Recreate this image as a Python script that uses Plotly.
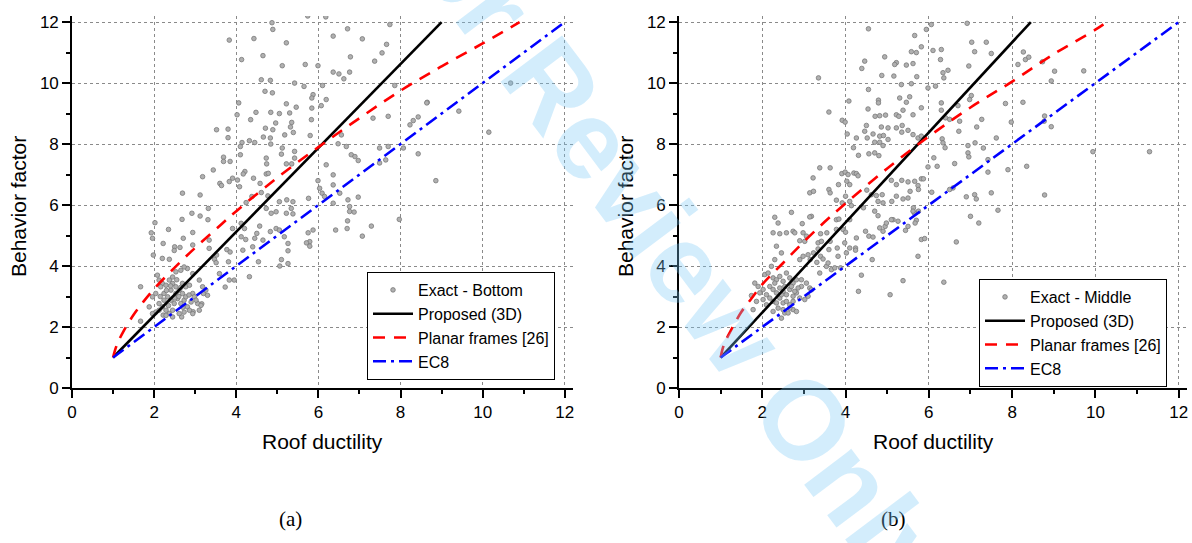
import plotly.graph_objects as go

# ---------------- data ----------------
bottom_pts = [
    (4.87,11.98),(4.89,11.76),(3.83,11.41),(4.43,11.46),(5.22,11.32),(4.13,10.77),(4.65,10.90),(5.12,10.57),
    (5.68,10.61),(5.99,10.57),(6.36,11.54),(6.71,11.78),(7.07,11.45),(7.74,11.92),(7.66,11.27),(7.55,10.99),
    (7.37,10.72),(6.78,10.86),(6.36,10.36),(6.50,10.30),(6.76,10.36),(6.62,10.14),(4.61,10.11),(4.83,10.09),
    (5.42,10.00),(5.65,9.89),(4.70,9.73),(4.88,9.68),(5.87,9.62),(5.84,9.51),(6.10,9.92),(6.19,9.46),
    (6.07,9.26),(5.84,9.18),(5.46,9.21),(5.22,9.32),(5.30,9.02),(4.84,9.04),(5.05,9.00),(4.48,9.04),
    (4.06,9.35),(4.02,8.96),(4.35,8.80),(4.96,8.69),(4.89,8.47),(4.71,8.52),(4.66,8.23),(4.83,8.20),
    (5.35,8.71),(5.32,8.56),(5.39,8.38),(5.18,8.30),(5.83,8.80),(5.80,8.28),(3.52,8.47),(3.80,8.49),
    (3.80,8.21),(4.14,8.05),(4.32,8.11),(4.45,8.05),(4.84,8.00),(5.12,7.87),(5.42,7.76),(5.42,7.54),
    (4.73,7.54),(4.74,7.35),(5.10,7.67),(5.22,7.35),(5.35,7.35),(4.10,7.92),(4.10,7.65),(3.69,7.57),
    (3.85,7.43),(3.69,7.43),(4.21,7.10),(4.17,7.02),(4.42,6.88),(4.73,7.02),(4.78,7.04),(3.91,6.88),
    (4.03,6.82),(3.83,6.77),(3.60,6.71),(3.64,6.64),(3.44,7.15),(3.18,6.93),(2.69,6.39),(3.12,6.33),
    (4.08,6.60),(4.24,6.08),(4.38,6.28),(4.58,6.71),(4.61,6.41),(4.77,6.30),(5.05,6.11),(5.23,6.17),
    (5.38,6.11),(4.73,5.89),(4.85,5.73),(4.97,5.78),(5.22,5.73),(5.38,5.71),(5.34,5.89),(5.76,6.22),
    (6.03,6.55),(6.09,6.39),(6.15,6.28),(6.36,6.66),(6.52,6.39),(6.72,6.17),(6.76,5.95),(6.76,5.79),
    (6.87,5.77),(6.97,6.26),(6.36,6.06),(5.99,6.80),(6.19,7.32),(6.36,6.99),(6.48,8.01),(6.56,8.30),
    (6.68,7.92),(6.80,7.65),(6.97,7.46),(6.89,7.59),(7.33,8.85),(7.70,8.91),(7.86,9.92),(7.49,7.87),
    (7.70,7.92),(8.07,7.87),(8.23,8.63),(8.31,8.77),(8.43,8.89),(8.65,9.37),(8.43,7.68),(8.86,6.80),
    (7.97,5.53),(7.29,5.31),(7.07,4.98),(6.70,5.23),(6.71,5.48),(6.42,5.18),(5.87,5.18),(5.75,5.09),
    (5.79,4.80),(5.79,4.65),(5.71,4.76),(5.26,4.74),(5.26,4.50),(5.10,4.21),(5.26,4.08),(5.06,4.00),
    (4.83,5.13),(4.97,5.23),(5.05,5.18),(5.17,4.96),(4.57,5.31),(4.50,5.07),(4.65,4.85),(4.45,4.91),
    (4.40,4.63),(4.12,5.40),(4.20,5.23),(4.12,4.96),(4.23,4.87),(3.91,5.23),(3.77,4.54),(3.85,4.46),
    (4.16,4.52),(4.54,4.14),(4.32,3.65),(3.95,3.54),(3.83,3.54),(3.81,4.14),(3.59,3.75),(3.47,4.22),
    (3.52,4.36),(3.34,4.58),(3.34,4.85),(2.94,5.10),(3.31,5.52),(3.32,5.89),(3.12,5.64),(2.92,5.73),
    (2.68,5.53),(2.35,5.20),(2.02,5.42),(1.93,5.09),(1.96,4.91),(2.20,4.25),(2.37,4.22),(2.50,4.63),
    (2.63,4.61),(2.71,4.91),(2.49,4.51),(2.94,4.69),(1.98,4.36),(2.22,4.74),(1.67,3.32),(3.51,4.11),
    (10.68,10.00),(10.15,8.39),(8.64,9.35),(9.42,9.08),(7.64,7.48),(7.49,7.38),(5.74,12.20),(6.18,12.17),
    (1.67,2.19),(3.73,3.31),(3.16,2.76),(2.95,2.50),(2.67,2.33),(2.22,2.39),(3.20,3.10),
    (2.08,3.70),(2.12,3.54),(2.20,3.43),(2.29,3.37),(2.37,3.54),(2.45,3.43),(2.53,3.32),(2.61,3.21),
    (2.69,3.43),(2.77,3.32),(2.86,3.37),(2.94,3.10),(2.24,3.10),(2.33,2.99),(2.41,2.88),(2.49,2.77),
    (2.57,2.93),(2.65,2.77),(2.73,2.88),(2.81,2.66),(2.90,2.82),(2.98,2.99),(3.06,2.77),(3.14,2.71),
    (2.12,2.77),(2.20,2.66),(2.29,2.55),(2.37,2.44),(2.45,2.55),(2.61,2.44),(2.73,2.49),(2.86,2.55),
    (3.02,2.88),(3.18,3.32),(3.26,3.21),(3.30,3.04),(3.10,3.54),(2.94,3.75),(2.81,3.92),(2.73,3.97),
    (2.65,3.86),(2.53,3.81),(2.45,3.64),(2.16,3.32),(2.04,3.10),(1.96,2.99),(2.24,2.88),(2.41,3.21),
    (2.53,3.10),(2.69,3.10),(2.77,2.99),(2.12,2.55),(2.29,2.38),(2.04,2.49),(2.45,2.33),(1.88,2.66),
    (1.96,2.44),(2.94,2.44),(3.10,2.55),(2.30,3.20),(2.55,3.55),(2.60,3.00),(2.35,2.70),(2.70,2.65),
    (2.15,3.00),(2.85,3.05),(2.40,3.35),(2.65,3.30),(2.50,2.95),
]

middle_pts = [
    (4.55,11.78),(6.06,11.92),(5.94,11.76),(6.92,11.96),(5.66,11.56),(5.82,11.19),(5.58,11.03),(5.70,11.00),
    (5.62,10.64),(5.46,10.59),(5.22,10.67),(5.18,10.61),(4.94,10.86),(4.46,10.72),(4.39,10.48),(4.87,10.25),
    (5.16,10.23),(5.71,10.21),(5.34,9.95),(5.58,9.98),(6.10,11.07),(6.30,11.10),(6.28,10.77),(6.34,10.34),
    (6.46,10.42),(6.36,10.17),(6.16,9.90),(5.98,9.84),(7.03,11.34),(7.38,11.34),(7.10,11.03),(7.50,10.97),
    (6.96,10.56),(8.14,10.61),(8.27,11.02),(8.32,10.77),(3.35,10.17),(4.55,9.79),(4.08,9.41),(4.79,9.44),
    (4.79,9.35),(5.30,9.51),(5.54,9.55),(5.46,9.37),(3.60,9.05),(3.92,8.78),(3.99,8.72),(4.54,9.15),
    (4.71,8.91),(4.82,8.93),(4.96,8.95),(5.22,8.96),(5.28,8.91),(5.38,9.11),(5.62,8.96),(5.82,9.19),
    (4.04,8.33),(4.26,8.20),(4.50,8.61),(4.46,8.42),(4.52,8.20),(4.66,8.33),(4.86,8.56),(5.02,8.53),
    (4.82,8.26),(4.91,8.28),(5.22,8.53),(5.36,8.61),(5.35,8.39),(5.50,8.45),(5.62,8.31),(5.74,8.20),
    (5.82,8.26),(4.70,8.06),(4.82,8.06),(4.90,7.95),(5.02,8.15),(4.19,7.88),(4.31,7.63),(4.56,7.68),
    (4.70,7.71),(4.80,7.62),(3.38,7.22),(3.63,7.22),(3.22,6.89),(3.91,7.03),(3.99,7.08),(4.06,7.00),
    (4.20,7.05),(4.26,7.03),(4.30,6.96),(3.83,6.67),(4.03,6.78),(4.10,6.67),(3.14,6.40),(3.23,6.45),
    (3.60,6.51),(3.63,6.40),(3.78,6.16),(4.00,6.29),(4.10,6.12),(4.14,5.98),(3.92,6.07),(4.51,6.49),
    (4.62,6.34),(4.74,6.31),(4.88,6.34),(4.78,6.12),(4.90,6.07),(4.43,5.91),(5.10,6.81),(5.22,6.67),
    (5.35,6.81),(5.50,6.76),(5.66,6.78),(5.82,6.86),(5.22,6.29),(5.38,6.20),(5.50,6.23),(5.55,6.45),
    (5.11,6.12),(5.63,5.91),(5.75,5.80),(5.65,5.74),(5.87,6.86),(5.98,7.25),(5.74,6.64),(5.75,6.51),
    (6.12,7.55),(6.20,7.27),(6.39,7.88),(6.62,7.36),(6.32,8.17),(6.34,8.04),(6.70,9.26),(6.50,8.81),
    (6.74,8.75),(6.72,8.42),(6.30,9.35),(6.30,9.11),(6.40,8.86),(6.98,9.46),(7.02,9.59),(7.27,8.81),
    (7.15,8.56),(6.94,7.95),(7.11,8.04),(7.31,7.87),(6.94,7.71),(6.96,7.58),(7.42,7.49),(7.42,7.08),
    (7.62,8.20),(7.84,9.33),(7.98,8.72),(8.26,9.37),(7.90,7.16),(8.35,7.27),(6.07,6.42),(6.50,6.51),
    (6.58,6.56),(6.90,6.27),(7.10,6.34),(7.14,6.20),(7.50,6.40),(7.00,5.63),(7.20,5.41),(7.66,5.83),
    (6.66,4.79),(6.36,3.47),(5.74,4.32),(5.82,4.87),(5.90,4.90),(5.38,3.52),(5.07,3.06),(4.31,3.17),
    (4.38,3.70),(4.64,4.21),(4.26,4.92),(4.24,4.59),(4.24,4.52),(4.48,5.14),(4.56,4.98),(4.66,4.95),
    (4.90,5.14),(4.95,5.30),(4.70,5.80),(4.78,5.65),(5.14,5.52),(5.26,5.47),(5.44,5.17),(5.50,5.30),
    (5.62,5.80),(5.70,5.50),(5.67,5.41),(4.82,5.25),(4.98,5.41),(5.10,5.52),(4.02,4.43),(4.10,4.59),
    (3.98,4.76),(3.80,4.59),(3.82,4.32),(3.88,3.94),(3.78,5.20),(3.94,5.20),(4.00,5.11),(3.78,5.52),
    (3.84,5.54),(4.10,5.52),(3.55,5.09),(3.63,4.81),(3.60,4.54),(3.40,5.06),(3.34,4.56),(3.40,4.32),
    (3.18,5.63),(2.96,5.39),(3.14,5.61),(2.70,5.76),(2.74,5.14),(2.78,5.09),(2.30,5.60),(2.38,5.41),
    (2.26,5.09),(2.42,5.06),(2.58,5.09),(2.98,5.09),(3.06,4.98),(2.90,4.83),(3.02,4.81),(3.34,4.76),
    (3.42,4.81),(3.23,4.43),(3.31,4.12),(3.15,4.21),(2.34,4.65),(2.46,4.43),(2.30,4.21),(2.90,4.21),
    (2.98,4.32),(3.10,4.37),(3.46,4.23),(3.54,3.99),(3.58,4.10),(3.66,3.88),(3.74,3.94),(3.38,3.77),
    (3.06,3.44),(3.14,3.28),(3.18,3.22),(2.94,3.33),(3.10,3.01),(3.02,2.90),(2.74,2.57),(2.66,2.62),
    (2.82,2.51),(2.46,2.29),(2.54,2.46),(2.26,2.51),(2.10,2.73),(2.02,2.90),(1.86,2.84),(1.90,3.33),
    (1.82,3.44),(1.74,3.03),(1.78,2.57),
    (2.06,3.72),(2.14,3.77),(2.22,3.99),(2.26,3.61),(2.34,3.55),(2.42,3.66),(2.50,3.50),(2.58,3.77),
    (2.66,3.61),(2.74,3.44),(2.82,3.55),(2.18,3.33),(2.26,3.23),(2.34,3.12),(2.42,3.28),(2.50,3.17),
    (2.58,3.06),(2.66,3.23),(2.74,3.01),(2.82,3.12),(2.90,2.95),(2.18,2.95),(2.26,2.84),(2.34,2.79),
    (2.42,2.95),(2.50,2.79),(2.58,2.84),(2.66,2.73),(2.74,2.84),(2.38,2.62),(2.50,2.57),(2.62,2.46),
    (2.30,3.44),(2.46,3.06),(2.54,3.33),(2.70,3.33),(2.78,3.17),(2.86,3.28),(2.94,3.55),(2.10,3.06),
    (2.02,3.23),(1.94,3.12),
    (8.40,10.85),(8.73,10.70),(9.02,10.39),(8.94,10.07),(9.72,10.40),(8.78,8.92),(8.94,8.57),(8.77,8.75),
    (8.78,6.33),(9.94,7.75),(11.30,7.75),
]

# Proposed (3D) lines
prop_bottom_mu = [1, 9.0]
prop_bottom_q = [1, 12]
prop_middle_mu = [1, 8.45]
prop_middle_q = [1, 12]

# Planar frames [26]
planar_bottom_mu = [1, 1.05, 1.12, 1.25, 1.5, 1.75, 2, 2.5, 3, 3.5, 4, 5, 6, 7, 8, 9, 10, 10.9]
planar_bottom_q = [1, 1.25, 1.5, 1.85, 2.4, 2.85, 3.25, 3.95, 4.6, 5.2, 5.8, 6.9, 7.9, 8.85, 9.75, 10.55, 11.3, 12]
planar_middle_mu = [1, 1.05, 1.12, 1.25, 1.5, 1.75, 2, 2.5, 3, 3.5, 4, 5, 6, 7, 8, 9, 10, 10.27]
planar_middle_q = [1, 1.3, 1.55, 1.9, 2.5, 2.95, 3.4, 4.1, 4.8, 5.45, 6.05, 7.2, 8.25, 9.2, 10.05, 10.95, 11.75, 12]

# EC8
ec8_mu = [1, 12]
ec8_q = [1, 12]

tick_vals = [0, 2, 4, 6, 8, 10, 12]
tick_text = ["0", "2", "4", "6", "8", "10", "12"]

# ---------------- figure ----------------
FONT = "Liberation Sans, Arial, sans-serif"
fig = go.Figure()

marker = dict(size=4.6, color="#b0b0b0", line=dict(color="#787878", width=0.8))

def add_panel(pts, label, prop_mu, prop_q, pl_mu, pl_q, xa, ya, leg):
    fig.add_trace(go.Scatter(x=[p[0] for p in pts], y=[p[1] for p in pts], mode="markers",
                             marker=marker, name=label, xaxis=xa, yaxis=ya, legend=leg))
    fig.add_trace(go.Scatter(x=prop_mu, y=prop_q, mode="lines", line=dict(color="black", width=2.6),
                             name="Proposed (3D)", xaxis=xa, yaxis=ya, legend=leg))
    fig.add_trace(go.Scatter(x=pl_mu, y=pl_q, mode="lines",
                             line=dict(color="#ff0000", width=2.6, dash="12px,9px", shape="spline"),
                             name="Planar frames [26]", xaxis=xa, yaxis=ya, legend=leg))
    fig.add_trace(go.Scatter(x=ec8_mu, y=ec8_q, mode="lines",
                             line=dict(color="#0000ff", width=2.6, dash="13px,5px,3px,5px"),
                             name="EC8", xaxis=xa, yaxis=ya, legend=leg))

add_panel(bottom_pts, "Exact - Bottom", prop_bottom_mu, prop_bottom_q,
          planar_bottom_mu, planar_bottom_q, "x", "y", "legend")
add_panel(middle_pts, "Exact - Middle", prop_middle_mu, prop_middle_q,
          planar_middle_mu, planar_middle_q, "x2", "y2", "legend2")

axis_common = dict(
    range=[0, 12.2], tickvals=tick_vals, ticktext=tick_text, automargin=False,
    ticks="outside", ticklen=8, tickwidth=1.5, tickcolor="black",
    showline=True, linewidth=1.6, linecolor="black", mirror=False,
    showgrid=True, gridcolor="#8a8a8a", griddash="dot", gridwidth=1,
    zeroline=False, tickfont=dict(family=FONT, size=17, color="black"),
    minor=dict(tickvals=[1, 3, 5, 7, 9, 11], ticks="outside", ticklen=4, tickwidth=1.5,
               tickcolor="black", showgrid=False),
)

W, H = 1192, 543
ydom = [(H - 388) / H, (H - 16) / H]
leg_common = dict(xanchor="left", yanchor="top", bgcolor="white", bordercolor="black",
                  borderwidth=1, font=dict(family=FONT, size=16, color="black"),
                  itemwidth=40, tracegroupgap=0)
fig.update_layout(
    width=W, height=H,
    margin=dict(l=0, r=0, t=0, b=0, autoexpand=False),
    paper_bgcolor="white", plot_bgcolor="white",
    xaxis=dict(domain=[72 / W, 573 / W], anchor="y", **axis_common),
    yaxis=dict(domain=ydom, anchor="x", **axis_common),
    xaxis2=dict(domain=[679 / W, 1187 / W], anchor="y2", **axis_common),
    yaxis2=dict(domain=ydom, anchor="x2", **axis_common),
    legend=dict(x=367 / W, y=(H - 272) / H, **leg_common),
    legend2=dict(x=979 / W, y=(H - 279) / H, **leg_common),
    showlegend=True,
)

title_font = dict(family=FONT, size=21, color="black")
ann = [
    dict(text="Roof ductility", x=322 / W, y=(H - 441) / H),
    dict(text="Roof ductility", x=933 / W, y=(H - 441) / H),
    dict(text="Behavior factor", x=18 / W, y=(H - 207) / H, textangle=-90),
    dict(text="Behavior factor", x=625 / W, y=(H - 207) / H, textangle=-90),
]
for a in ann:
    fig.add_annotation(xref="paper", yref="paper", showarrow=False, font=title_font,
                       xanchor="center", yanchor="middle", **a)

sub_font = dict(family="Liberation Serif, Times New Roman, serif", size=21, color="black")
fig.add_annotation(text="(a)", x=290 / W, y=(H - 519) / H, xref="paper", yref="paper",
                   showarrow=False, font=sub_font, xanchor="center", yanchor="middle")
fig.add_annotation(text="(b)", x=893 / W, y=(H - 519) / H, xref="paper", yref="paper",
                   showarrow=False, font=sub_font, xanchor="center", yanchor="middle")

# watermark
fig.add_annotation(text="<b>For Review Only</b>", x=664 / W, y=(H - 234) / H, xref="paper", yref="paper",
                   showarrow=False, textangle=53, xanchor="center", yanchor="middle",
                   font=dict(family=FONT, size=112, color="rgba(120,200,245,0.33)"))

fig.write_html("out.html", config={"displayModeBar": False})

# remove the default page margin so the figure sits at the window's top-left corner
with open("out.html", "r", encoding="utf-8") as f:
    html = f.read()
html = html.replace("<head>", "<head><style>html,body{margin:0;padding:0;overflow:hidden;}</style>", 1)
with open("out.html", "w", encoding="utf-8") as f:
    f.write(html)
